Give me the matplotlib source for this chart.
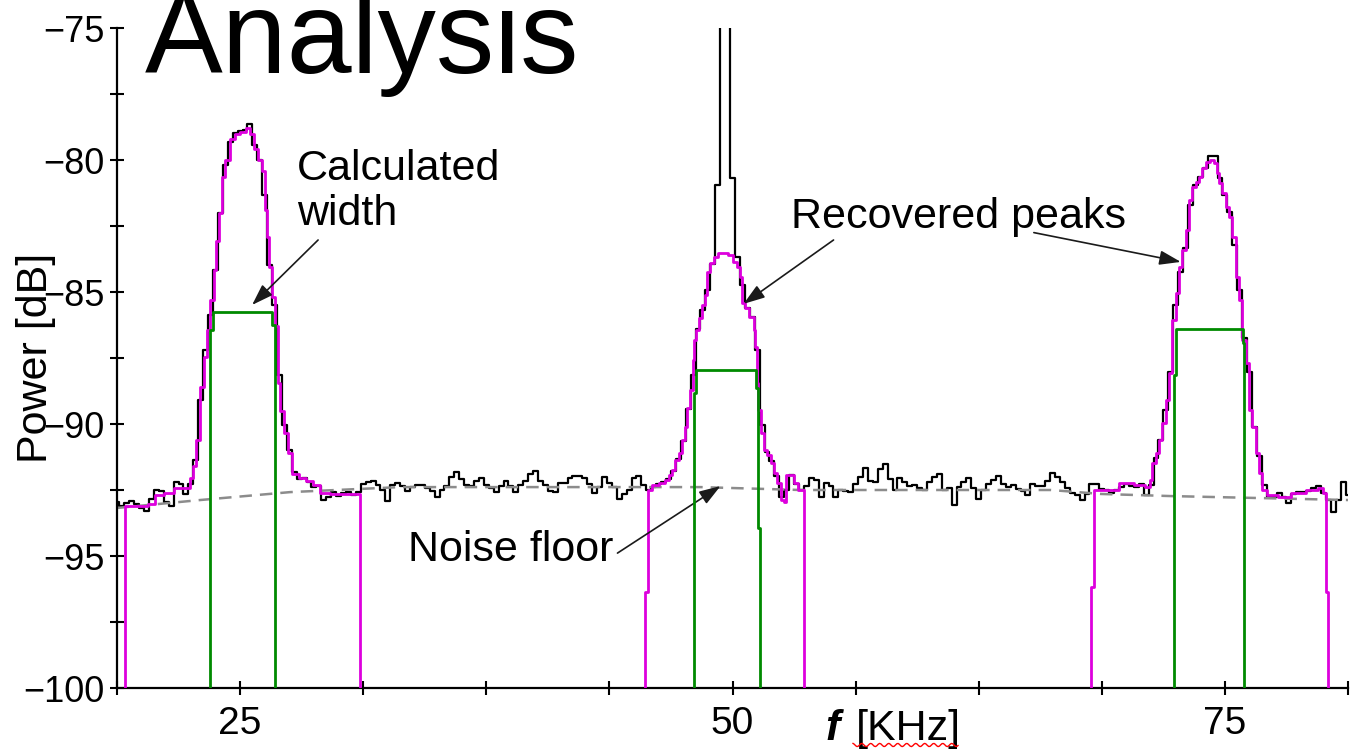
import numpy as np
import matplotlib
matplotlib.use("Agg")
import matplotlib.pyplot as plt
from matplotlib.lines import Line2D

plt.rcParams['font.family'] = ['Liberation Sans', 'DejaVu Sans']

# measured spectrum, one value every 0.25 kHz from 18.75 to 81.25 kHz
freq_khz = np.linspace(18.75, 81.25, 251)
power_db = [
    -92.95, -93.11, -92.99, -92.92, -93.03, -93.18, -93.30, -92.84, -92.50, -92.54,
    -92.95, -93.11, -92.20, -92.27, -92.65, -92.27, -91.36, -89.09, -87.20, -85.87,
    -84.17, -82.01, -80.19, -79.32, -78.98, -78.90, -78.86, -78.64, -79.43, -80.00,
    -81.33, -83.98, -85.49, -88.14, -90.04, -90.98, -91.82, -92.08, -92.05, -92.20,
    -92.39, -92.35, -92.88, -92.77, -92.58, -92.73, -92.61, -92.58, -92.69, -92.58,
    -92.27, -92.20, -92.16, -92.31, -92.50, -92.92, -92.31, -92.24, -92.35, -92.54,
    -92.39, -92.31, -92.31, -92.42, -92.54, -92.77, -92.50, -92.35, -92.01, -91.82,
    -92.08, -92.31, -92.35, -92.16, -92.05, -92.31, -92.42, -92.58, -92.35, -92.16,
    -92.35, -92.58, -92.31, -92.16, -91.89, -91.78, -92.16, -92.31, -92.54, -92.58,
    -92.24, -92.24, -92.05, -91.97, -91.97, -92.05, -92.27, -92.61, -92.39, -92.01,
    -92.24, -92.39, -92.84, -92.65, -92.50, -92.05, -91.97, -92.31, -92.50, -92.39,
    -92.27, -92.20, -92.08, -91.78, -91.33, -90.64, -89.43, -88.14, -86.40, -85.68,
    -84.92, -83.94, -80.95, -62.00, -62.00, -80.68, -83.67, -84.73, -85.61, -85.95,
    -87.20, -90.04, -91.06, -91.40, -91.97, -92.77, -92.50, -91.93, -92.27, -92.50,
    -92.35, -92.05, -92.12, -92.77, -92.24, -92.35, -92.77, -92.50, -92.54, -92.58,
    -92.27, -92.01, -91.67, -92.16, -92.20, -91.70, -91.52, -92.08, -92.50, -92.05,
    -92.20, -92.35, -92.31, -92.42, -92.50, -92.20, -92.01, -91.89, -92.50, -92.42,
    -93.07, -92.39, -92.20, -92.05, -92.42, -92.84, -92.50, -92.27, -92.12, -91.97,
    -92.27, -92.39, -92.31, -92.46, -92.54, -92.69, -92.27, -92.35, -92.35, -92.16,
    -91.86, -92.01, -92.20, -92.42, -92.61, -92.69, -92.88, -92.65, -92.27, -92.27,
    -92.46, -92.50, -92.61, -92.50, -92.39, -92.27, -92.35, -92.39, -92.27, -92.69,
    -92.31, -91.29, -90.61, -89.47, -88.03, -85.49, -84.24, -83.33, -81.70, -80.95,
    -80.64, -80.30, -79.85, -79.85, -80.68, -81.33, -81.97, -83.22, -84.92, -86.74,
    -88.03, -90.11, -91.21, -92.31, -92.77, -92.77, -92.61, -92.77, -92.99, -92.65,
    -92.58, -92.58, -92.54, -92.42, -92.35, -92.61, -92.88, -93.33, -92.88, -92.20,
    -92.69,
]

# estimated noise floor
floor_khz = [18.75, 22.97, 27.54, 33.13, 48.37, 53.46, 66.16, 68.70, 72.26, 81.25]
floor_db = [-93.18, -92.88, -92.58, -92.39, -92.39, -92.50, -92.50, -92.65, -92.73, -92.88]

# recovered peaks (magenta)
peak1_khz = [19.15, 19.15, 20.2, 20.48, 20.83, 21.44, 21.8, 22.36, 22.51, 22.66,
             22.87, 23.07, 23.22, 23.37, 23.58, 23.73, 23.83, 23.98, 24.14, 24.34,
             24.59, 24.85, 25.15, 25.4, 25.61, 25.81, 26.02, 26.17, 26.32, 26.42,
             26.52, 26.68, 26.88, 26.93, 27.13, 27.29, 27.54, 27.74, 28.2, 28.46,
             28.91, 29.17, 29.98, 31.1, 31.1]
peak1_db = [-100, -93.1, -93.1, -93.03, -92.69, -92.61, -92.42, -92.42, -92.05, -91.59,
            -90.6, -88.6, -87.45, -86.45, -85.3, -84.15, -83.05, -82.0, -80.65, -80.0,
            -79.2, -79.0, -78.95, -78.8, -79.0, -79.6, -80.0, -80.4, -81.9, -82.9,
            -84.05, -85.2, -86.3, -88.45, -89.5, -90.35, -91.1, -91.9, -92.05, -92.15,
            -92.3, -92.6, -92.65, -92.65, -100]

peak2_khz = [45.58, 45.58, 45.73, 45.73, 46.09, 46.44, 46.70, 46.85, 47.0, 47.21,
             47.36, 47.51, 47.66, 47.76, 47.92, 48.02, 48.12, 48.22, 48.37, 48.52,
             48.67, 48.77, 48.98, 49.13, 49.38, 49.63, 49.89, 50.14, 50.30, 50.45,
             50.55, 50.75, 50.9, 51.07, 51.11, 51.21, 51.27, 51.37, 51.52, 51.68,
             51.83, 52.03, 52.19, 52.34, 52.55, 52.66, 52.81, 53.06, 53.2, 53.46,
             53.61, 53.61]
peak2_db = [-100, -96.36, -96.36, -92.5, -92.31, -92.23, -92.12, -91.93, -91.74, -91.36,
            -91.1, -90.6, -90.11, -89.39, -88.71, -87.58, -86.82, -86.44, -85.98, -85.49,
            -85.11, -84.24, -83.9, -83.67, -83.52, -83.52, -83.6, -83.86, -84.05, -84.43,
            -85.42, -85.61, -85.95, -85.95, -86.44, -87.08, -88.45, -89.47, -90.34, -90.98,
            -91.17, -91.48, -91.86, -92.23, -92.88, -92.95, -91.93, -91.93, -92.23, -92.5,
            -92.5, -100]

peak3_khz = [68.19, 68.19, 68.34, 68.34, 68.70, 69.21, 70.07, 70.73, 71.14, 71.24,
             71.39, 71.59, 71.75, 71.90, 72.10, 72.26, 72.41, 72.61, 72.76, 72.92,
             73.12, 73.27, 73.42, 73.63, 73.78, 73.93, 74.14, 74.39, 74.54, 74.64,
             74.80, 74.95, 75.15, 75.31, 75.46, 75.66, 75.81, 75.97, 76.17, 76.32,
             76.47, 76.68, 76.83, 76.98, 77.34, 78.10, 78.61, 79.62, 79.88, 80.13,
             80.13, 80.23, 80.23]
peak3_db = [-100, -96.17, -96.17, -92.5, -92.5, -92.5, -92.23, -92.31, -92.39, -92.12,
            -91.48, -91.1, -90.61, -89.96, -89.09, -88.07, -86.06, -85.04, -84.05, -83.41,
            -82.65, -81.52, -81.02, -80.83, -80.64, -80.30, -80.08, -80.0, -80.11, -80.49,
            -80.87, -81.25, -81.78, -82.16, -82.92, -84.43, -85.30, -86.82, -87.69, -89.47,
            -90.11, -91.10, -91.86, -92.5, -92.69, -92.77, -92.61, -92.5, -92.42, -92.61,
            -96.36, -96.36, -100]

# calculated widths (green)
width1_khz = [23.48, 23.48, 23.63, 23.63, 26.63, 26.63, 26.78, 26.78]
width1_db = [-100, -86.44, -86.44, -85.76, -85.76, -86.25, -86.25, -100]
width2_khz = [48.07, 48.07, 48.17, 48.17, 51.17, 51.17, 51.27, 51.27, 51.42, 51.42]
width2_db = [-100, -88.83, -88.83, -87.95, -87.95, -88.64, -88.64, -93.94, -93.94, -100]
width3_khz = [72.41, 72.41, 72.51, 72.51, 75.92, 75.92, 75.97, 75.97]
width3_db = [-100, -88.14, -88.14, -86.40, -86.40, -86.93, -86.93, -100]

xtick_pos = [18.75, 25, 31.25, 37.5, 43.75, 50, 56.25, 62.5, 68.75, 75, 81.25]
xtick_lab = ['', '25', '', '', '', '50', '', '', '', '75', '']
ytick_pos = [-100, -97.5, -95, -92.5, -90, -87.5, -85, -82.5, -80, -77.5, -75]
ytick_lab = ['\u2212100', '', '\u221295', '', '\u221290', '', '\u221285', '', '\u221280', '', '\u221275']

fig = plt.figure(figsize=(13.58, 7.5), dpi=100)
ax = fig.add_axes([117 / 1358, 62 / 750, 1231 / 1358, 660 / 750])

ax.plot(freq_khz, power_db, color='black', lw=1.6, drawstyle='steps-mid', zorder=2)
ax.plot(floor_khz, floor_db, color='#8c8c8c', lw=1.8, dashes=(5, 3.2), zorder=2.5)
for fx, fy in [(peak1_khz, peak1_db), (peak2_khz, peak2_db), (peak3_khz, peak3_db)]:
    ax.plot(fx, fy, color='#dd00dd', lw=2.0, drawstyle='steps-mid', zorder=3)
for fx, fy in [(width1_khz, width1_db), (width2_khz, width2_db), (width3_khz, width3_db)]:
    ax.plot(fx, fy, color='#008a00', lw=2.0, zorder=4)

ax.set_xlim(18.75, 81.25)
ax.set_ylim(-100, -75)
ax.spines['top'].set_visible(False)
ax.spines['right'].set_visible(False)
for s in ['left', 'bottom']:
    ax.spines[s].set_linewidth(1.6)
ax.set_xticks(xtick_pos)
ax.set_xticklabels(xtick_lab, fontsize=28)
ax.set_yticks(ytick_pos)
ax.set_yticklabels(ytick_lab, fontsize=26, family=['Liberation Sans Narrow', 'Liberation Sans'])
ax.tick_params(direction='inout', length=10, width=1.5, color='black')
ax.tick_params(axis='x', pad=8)
ax.tick_params(axis='y', pad=4)

ax.text(-0.066, 0.5, 'Power [dB]', transform=ax.transAxes, rotation=90,
        ha='center', va='center', fontsize=31)

# x axis label: bold italic f followed by the unit
xl = ax.get_xaxis_transform()
ax.text(54.73, -0.079, 'f', transform=xl, fontsize=31, fontweight='bold',
        style='italic', ha='left', va='baseline', clip_on=False)
ax.text(56.25, -0.079, '[KHz]', transform=xl, fontsize=31,
        ha='left', va='baseline', clip_on=False)
wx = np.linspace(853, 958, 80)
wy = 745 + 1.6 * np.sin(wx / 9 * 2 * np.pi)
fig.add_artist(Line2D(wx / 1358, 1 - wy / 750, color='red', lw=1.0,
                      transform=fig.transFigure))

arrow = dict(arrowstyle='-|>,head_length=0.65,head_width=0.22', color='#1a1a1a',
             lw=1.2, mutation_scale=20, shrinkA=0, shrinkB=0)
ax.text(27.9, -79.6, 'Calculated\nwidth', fontsize=31, ha='left', va='top', linespacing=1.15)
ax.annotate('', xy=(25.61, -85.49), xytext=(28.96, -83.03), arrowprops=arrow)
ax.text(52.95, -82.15, 'Recovered peaks', fontsize=31, ha='left', va='center')
ax.annotate('', xy=(50.56, -85.45), xytext=(55.13, -83.03), arrowprops=arrow)
ax.annotate('', xy=(72.76, -83.86), xytext=(65.3, -82.75), arrowprops=arrow)
ax.text(33.54, -94.77, 'Noise floor', fontsize=31, ha='left', va='center')
ax.annotate('', xy=(49.39, -92.35), xytext=(44.16, -94.89), arrowprops=arrow)

fig.text(145 / 1358, 1 - 73 / 750, 'Analysis', fontsize=84, ha='left', va='baseline')

fig.savefig('out.png', dpi=100)
